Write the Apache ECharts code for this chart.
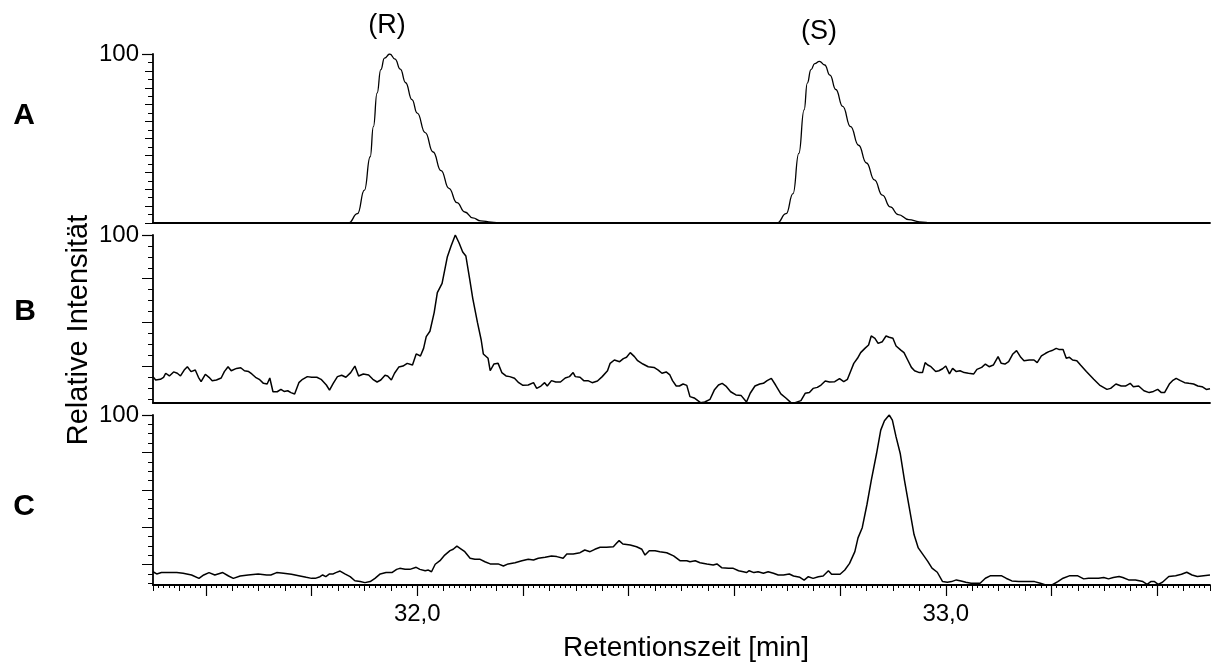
<!DOCTYPE html>
<html>
<head>
<meta charset="utf-8">
<title>Chromatogramme A–C</title>
<script src="https://cdn.jsdelivr.net/npm/echarts@6/dist/echarts.min.js"></script>
<style>
  html, body { margin: 0; padding: 0; background: #fff; }
  #chart { width: 1215px; height: 664px; }
</style>
</head>
<body>
<div id="chart"></div>
<script>
// Retention-time axis (min)
const timeRange = [31.5, 33.5];
const timeLongTicks = [31.6, 31.8, 32.0, 32.2, 32.4, 32.6, 32.8, 33.0, 33.2, 33.4];
const timeLabelTicks = [32.0, 33.0];

// Panel letters and peak assignments
const panelNames = ['A', 'B', 'C'];
const peakLabels = ['(R)', '(S)'];
const yTitle = 'Relative Intensität';
const xTitle = 'Retentionszeit [min]';

// Intensity ticks of each trace (top normalised to 100)
const yTicksA = [0, 5, 10, 15, 20, 25, 30, 35, 40, 45, 50, 55, 60, 65, 70, 75, 80, 85, 90, 95, 100];
const yMajorA = [0, 10, 20, 30, 40, 50, 60, 70, 80, 90];
const yTicksB = [100, 93.5, 87, 80.5, 74, 67.5, 61, 54.5, 48, 41.5, 35, 28.5, 22, 15.5, 9, 2.5];
const yMajorB = [74, 48, 22];
const yTicksC = [100, 94.5, 89, 83.5, 78, 72.5, 67, 61.5, 56, 50.5, 45, 39.5, 34, 28.5, 23, 17.5, 12, 6.5, 1];
const yMajorC = [78, 56, 34, 12];
const yTopLabel = [100];

// Trace A: [retention time, relative intensity]
const traceA = [
  [31.5, 0], [31.87, 0], [31.887, 5.5], [31.9, 19.4], [31.911, 39.2], [31.917, 57.0], [31.924, 76.8],
  [31.931, 90.7], [31.938, 97.6], [31.948, 100], [31.958, 97], [31.968, 91], [31.978, 83],
  [31.99, 73], [32.0, 65], [32.015, 53.5], [32.03, 42], [32.045, 31], [32.06, 20.5],
  [32.075, 12], [32.09, 6.5], [32.105, 3], [32.12, 1.3], [32.14, 0.5], [32.16, 0],
  [32.681, 0], [32.698, 5.5], [32.711, 17.4], [32.722, 41.2], [32.732, 66.9], [32.738, 82.8],
  [32.745, 90.7], [32.752, 94.3], [32.761, 95.6], [32.771, 93.5], [32.781, 87.5], [32.792, 79],
  [32.805, 69], [32.82, 57], [32.835, 46], [32.85, 35.5], [32.865, 25.5], [32.88, 16.5],
  [32.895, 9.5], [32.91, 5], [32.93, 2], [32.95, 0.7], [32.975, 0], [33.5, 0]
];

// Trace B
const traceB = [
  [31.5, 15.7], [31.505, 13.7], [31.514, 14.1], [31.52, 15.3], [31.524, 17.7], [31.531, 16.1], [31.539, 18.5],
  [31.546, 17.7], [31.552, 16.1], [31.559, 19.6], [31.565, 21.6], [31.572, 18.7], [31.58, 19.6], [31.586, 15.3],
  [31.591, 12.7], [31.599, 17.1], [31.606, 15.3], [31.612, 13.3], [31.62, 13.7], [31.629, 14.9], [31.635, 18.7],
  [31.642, 21.6], [31.648, 19.2], [31.658, 20.6], [31.666, 21.0], [31.673, 19.2], [31.681, 18.7], [31.687, 17.3],
  [31.694, 15.3], [31.701, 14.1], [31.709, 11.7], [31.716, 11.3], [31.721, 14.9], [31.727, 6.7], [31.735, 6.7],
  [31.742, 8.1], [31.748, 6.9], [31.755, 7.3], [31.761, 6.2], [31.768, 5.4], [31.776, 12.1], [31.783, 14.1],
  [31.792, 15.7], [31.8, 15.3], [31.81, 15.3], [31.818, 14.1], [31.828, 10.7], [31.834, 7.7], [31.841, 11.7],
  [31.849, 15.7], [31.857, 16.5], [31.865, 15.3], [31.874, 18.1], [31.882, 22.0], [31.889, 16.1], [31.898, 17.3],
  [31.908, 16.7], [31.916, 14.1], [31.924, 12.5], [31.931, 13.7], [31.939, 16.5], [31.944, 16.1], [31.951, 13.7],
  [31.957, 17.7], [31.965, 21.4], [31.973, 22.0], [31.981, 23.6], [31.991, 22.6], [31.998, 29.2], [32.006, 28.0],
  [32.012, 32.5], [32.017, 39.5], [32.024, 42.7], [32.032, 53.8], [32.038, 65.7], [32.047, 71.2], [32.057, 87.1],
  [32.064, 93.5], [32.072, 100], [32.079, 95.4], [32.086, 89.9], [32.092, 87.5], [32.099, 74.2], [32.105, 62.3],
  [32.114, 47.8], [32.121, 37.5], [32.125, 29.2], [32.134, 26.6], [32.138, 19.2], [32.145, 23.2], [32.153, 23.6],
  [32.16, 18.1], [32.168, 16.1], [32.175, 15.7], [32.184, 14.7], [32.192, 12.1], [32.2, 10.5], [32.21, 10.7],
  [32.22, 12.1], [32.226, 8.7], [32.234, 10.1], [32.241, 12.1], [32.246, 10.1], [32.254, 13.3], [32.262, 12.5],
  [32.271, 12.5], [32.28, 14.9], [32.288, 15.7], [32.295, 18.1], [32.299, 15.7], [32.308, 15.3], [32.315, 13.3],
  [32.323, 13.3], [32.331, 12.1], [32.341, 13.1], [32.35, 15.7], [32.36, 19.2], [32.365, 23.6], [32.373, 25.6],
  [32.383, 24.6], [32.39, 26.4], [32.396, 27.2], [32.403, 30.0], [32.411, 27.6], [32.417, 25.2], [32.427, 23.2],
  [32.437, 21.6], [32.448, 21.2], [32.456, 19.6], [32.463, 17.7], [32.471, 18.5], [32.478, 16.7],
  [32.483, 13.3], [32.49, 10.1], [32.496, 10.1], [32.503, 11.3], [32.51, 10.5], [32.516, 3.8], [32.524, 3.0],
  [32.536, 0.2], [32.544, 0.6], [32.554, 2.2], [32.562, 7.7], [32.57, 10.7], [32.577, 11.7], [32.584, 10.1],
  [32.593, 6.7], [32.603, 4.8], [32.613, 4.4], [32.623, 0.6], [32.63, 5.8], [32.639, 10.1], [32.648, 11.3],
  [32.655, 11.7], [32.662, 13.3], [32.67, 14.7], [32.678, 10.7], [32.688, 5.4], [32.698, 2.8], [32.707, 0.2],
  [32.715, 0.2], [32.726, 1.4], [32.734, 5.8], [32.742, 6.3], [32.749, 8.7], [32.757, 9.3], [32.764, 10.7],
  [32.772, 13.1], [32.78, 12.5], [32.79, 12.7], [32.799, 14.5], [32.807, 12.7], [32.814, 14.1], [32.821, 19.6],
  [32.826, 23.6], [32.833, 26.6], [32.839, 30.0], [32.847, 32.5], [32.854, 34.5], [32.859, 39.9], [32.866, 38.5],
  [32.872, 35.5], [32.88, 36.5], [32.887, 39.9], [32.893, 39.1], [32.9, 38.5], [32.906, 33.9], [32.915, 31.5],
  [32.921, 30.0], [32.928, 25.6], [32.935, 21.2], [32.941, 19.2], [32.95, 18.1], [32.956, 18.1], [32.961, 24.0],
  [32.966, 22.6], [32.972, 21.6], [32.981, 18.7], [32.987, 19.2], [32.994, 20.4], [33.0, 22.0], [33.007, 17.3],
  [33.013, 20.6], [33.02, 18.7], [33.027, 19.2], [33.035, 18.1], [33.043, 17.7], [33.053, 17.3], [33.059, 20.0],
  [33.068, 21.2], [33.075, 23.2], [33.082, 21.6], [33.09, 22.6], [33.099, 27.6], [33.105, 23.6], [33.112, 23.2],
  [33.119, 24.6], [33.127, 29.2], [33.134, 31.2], [33.142, 27.2], [33.148, 25.2], [33.158, 25.6], [33.167, 25.6],
  [33.173, 24.0], [33.181, 28.0], [33.189, 29.6], [33.195, 30.6], [33.201, 31.2], [33.209, 32.5], [33.214, 31.9],
  [33.222, 31.9], [33.228, 26.6], [33.234, 27.2], [33.24, 25.6], [33.248, 25.2], [33.255, 22.6], [33.266, 18.7],
  [33.28, 14.1], [33.291, 10.7], [33.305, 8.1], [33.312, 8.7], [33.322, 11.3], [33.332, 10.1], [33.34, 10.1],
  [33.349, 11.7], [33.355, 9.7], [33.365, 10.1], [33.375, 7.3], [33.385, 6.2], [33.393, 6.9], [33.401, 8.1],
  [33.408, 6.2], [33.414, 6.2], [33.423, 11.3], [33.429, 13.3], [33.436, 14.7], [33.444, 13.3], [33.452, 12.1],
  [33.46, 11.7], [33.469, 11.3], [33.477, 10.1], [33.485, 9.7], [33.493, 8.1], [33.5, 8.5]
];

// Trace C
const traceC = [
  [31.5, 7.8], [31.507, 6.5], [31.516, 7.3], [31.532, 7.3], [31.545, 7.3], [31.557, 6.9], [31.573, 5.9],
  [31.587, 3.9], [31.596, 5.9], [31.606, 7.3], [31.617, 5.9], [31.632, 7.3], [31.643, 5.3], [31.652, 3.9],
  [31.665, 5.3], [31.68, 5.9], [31.699, 6.5], [31.715, 5.9], [31.723, 5.9], [31.734, 7.3], [31.747, 6.9],
  [31.762, 6.3], [31.778, 5.3], [31.79, 4.5], [31.8, 3.9], [31.807, 3.9], [31.816, 4.9], [31.821, 5.9],
  [31.827, 4.9], [31.834, 6.5], [31.841, 6.5], [31.846, 7.3], [31.854, 8.2], [31.863, 6.5], [31.873, 4.9],
  [31.882, 2.5], [31.892, 2.0], [31.901, 1.4], [31.911, 2.0], [31.92, 3.9], [31.93, 6.5], [31.941, 7.3],
  [31.952, 7.3], [31.961, 9.2], [31.967, 9.8],
  [31.977, 9.2], [31.986, 9.2], [31.998, 10.4], [32.005, 9.2], [32.015, 8.4], [32.021, 8.8], [32.027, 7.8],
  [32.034, 12.2], [32.043, 14.3], [32.052, 17.6], [32.062, 20.2], [32.068, 21.0], [32.075, 22.9], [32.081, 21.6],
  [32.09, 19.6], [32.1, 15.7], [32.109, 15.1], [32.119, 15.1], [32.128, 13.7], [32.138, 12.4], [32.153, 12.4],
  [32.163, 11.2], [32.172, 12.4], [32.185, 13.1], [32.198, 14.3], [32.21, 15.1], [32.22, 14.7], [32.229, 15.7],
  [32.242, 16.3], [32.254, 17.1], [32.264, 16.7], [32.276, 15.7], [32.283, 18.2], [32.295, 18.2], [32.308, 19.0],
  [32.317, 20.6], [32.327, 19.6], [32.336, 21.0], [32.346, 22.2], [32.358, 22.2], [32.371, 22.5], [32.377, 24.5],
  [32.382, 26.1], [32.389, 24.1], [32.403, 23.5], [32.415, 22.5], [32.425, 21.0], [32.431, 17.6], [32.439, 20.2],
  [32.45, 20.2], [32.459, 19.6], [32.472, 19.0], [32.485, 17.1], [32.497, 14.3], [32.51, 14.3], [32.516, 13.7],
  [32.526, 14.3], [32.535, 13.1], [32.548, 12.4], [32.56, 11.8], [32.567, 12.4], [32.576, 10.2], [32.589, 9.8],
  [32.598, 9.8], [32.608, 8.4], [32.617, 7.8], [32.623, 7.3], [32.628, 8.4], [32.637, 7.3], [32.645, 7.8],
  [32.655, 6.9], [32.664, 7.8], [32.674, 6.9], [32.683, 5.9], [32.693, 5.9], [32.704, 6.5], [32.712, 5.3],
  [32.724, 4.5], [32.732, 2.9], [32.74, 4.9], [32.749, 3.9], [32.759, 4.9], [32.768, 5.3], [32.778, 8.4],
  [32.784, 6.3], [32.8, 6.3], [32.809, 8.8], [32.818, 12.7], [32.828, 19.6],
  [32.834, 27.7], [32.842, 33.7], [32.851, 47.5], [32.859, 61.4], [32.869, 77.2], [32.877, 91.1], [32.884, 96.6],
  [32.893, 100], [32.899, 97.0], [32.906, 87.1], [32.914, 77.2], [32.922, 61.4], [32.931, 45.5], [32.94, 29.7],
  [32.948, 21.8], [32.958, 17.4], [32.966, 13.9], [32.974, 9.9], [32.984, 7.5], [32.994, 2.0], [33.003, 1.6],
  [33.011, 2.0], [33.02, 3.0], [33.029, 2.4], [33.038, 1.6], [33.048, 1.0], [33.065, 1.0], [33.075, 4.0],
  [33.085, 5.5], [33.095, 5.5], [33.105, 5.5], [33.114, 4.0], [33.125, 2.4], [33.138, 2.0], [33.155, 2.0],
  [33.168, 2.0], [33.179, 1.0], [33.189, 0], [33.201, 0], [33.212, 2.0], [33.222, 4.0], [33.235, 5.5],
  [33.249, 5.5], [33.261, 3.6], [33.27, 4.0], [33.281, 4.0], [33.289, 4.0], [33.299, 4.4], [33.308, 3.6],
  [33.317, 4.4], [33.328, 5.0], [33.335, 4.4], [33.346, 3.0], [33.359, 3.0], [33.373, 2.0], [33.381, 0.4],
  [33.388, 2.0], [33.395, 2.0], [33.402, 0.4], [33.41, 1.6], [33.422, 5.0], [33.435, 5.5], [33.446, 6.3],
  [33.456, 7.5], [33.466, 5.9], [33.476, 5.0], [33.488, 5.5], [33.5, 5.9]
];

const FONT = '"Liberation Sans", Arial, Helvetica, sans-serif';
const INK = '#000';

// Vertical layout of the three stacked traces
const panels = [
  { top: 54,  height: 169, data: traceA, ticks: yTicksA, major: yMajorA, majorLen: 8,  width: 1.3, smooth: 0.5 },
  { top: 235, height: 168, data: traceB, ticks: yTicksB, major: yMajorB, majorLen: 11, width: 1.5, smooth: false },
  { top: 415, height: 170, data: traceC, ticks: yTicksC, major: yMajorC, majorLen: 11, width: 1.5, smooth: false }
];
const plotLeft = 153, plotWidth = 1057;

const grids = [], xAxes = [], yAxes = [], series = [];

panels.forEach((p, i) => {
  grids.push({ left: plotLeft, top: p.top, width: plotWidth, height: p.height });

  xAxes.push({
    type: 'value', gridIndex: i, min: timeRange[0], max: timeRange[1], interval: 0.05,
    axisLine: { show: true, onZero: false, lineStyle: { color: INK, width: 1.8 } },
    axisTick: { show: i === 2, length: 6, lineStyle: { color: INK, width: 1 } },
    minorTick: { show: i === 2, splitNumber: 5, length: 3, lineStyle: { color: INK, width: 1 } },
    axisLabel: { show: false },
    splitLine: { show: false }, minorSplitLine: { show: false }
  });

  const yBase = {
    type: 'value', gridIndex: i, min: 0, max: 100, position: 'left', offset: 0,
    splitLine: { show: false }, axisLabel: { show: false }
  };
  // all ticks (short) + axis line
  yAxes.push(Object.assign({}, yBase, {
    axisLine: { show: true, lineStyle: { color: INK, width: 1.8 } },
    axisTick: { show: true, customValues: p.ticks, length: 5, lineStyle: { color: INK, width: 1 } }
  }));
  // intermediate ticks (longer)
  yAxes.push(Object.assign({}, yBase, {
    axisLine: { show: false },
    axisTick: { show: true, customValues: p.major, length: p.majorLen, lineStyle: { color: INK, width: 1 } }
  }));
  // top tick with its label
  yAxes.push(Object.assign({}, yBase, {
    axisLine: { show: false },
    axisTick: { show: true, customValues: yTopLabel, length: 11, lineStyle: { color: INK, width: 1.2 } },
    axisLabel: { show: true, customValues: yTopLabel, margin: 14, color: INK, fontFamily: FONT, fontSize: 24 }
  }));

  series.push({
    type: 'line', name: panelNames[i], xAxisIndex: i, yAxisIndex: i * 3,
    data: p.data, showSymbol: false, symbol: 'none',
    smooth: p.smooth, smoothMonotone: 'x',
    lineStyle: { color: INK, width: p.width }, clip: true
  });
});

// long ticks every 0.2 min and the labelled minutes on the bottom trace
xAxes.push({
  type: 'value', gridIndex: 2, min: timeRange[0], max: timeRange[1], position: 'bottom',
  axisLine: { show: false, onZero: false },
  axisTick: { show: true, customValues: timeLongTicks, length: 11, lineStyle: { color: INK, width: 1.2 } },
  axisLabel: {
    show: true, customValues: timeLabelTicks, margin: 17, color: INK, fontFamily: FONT, fontSize: 24,
    formatter: v => v.toFixed(1).replace('.', ',')
  },
  splitLine: { show: false }
});

const textStyle = (size, weight) => ({ fill: INK, font: `${weight || 'normal'} ${size}px ${FONT}`, align: 'center', verticalAlign: 'middle' });

const graphics = [
  { type: 'text', x: 24, y: 116, style: Object.assign({ text: panelNames[0] }, textStyle(30, 'bold')) },
  { type: 'text', x: 25, y: 312, style: Object.assign({ text: panelNames[1] }, textStyle(30, 'bold')) },
  { type: 'text', x: 24, y: 507, style: Object.assign({ text: panelNames[2] }, textStyle(30, 'bold')) },
  { type: 'text', x: 387, y: 26, style: Object.assign({ text: peakLabels[0] }, textStyle(27)) },
  { type: 'text', x: 819, y: 32, style: Object.assign({ text: peakLabels[1] }, textStyle(27)) },
  { type: 'text', x: 79, y: 330, rotation: Math.PI / 2, style: Object.assign({ text: yTitle }, textStyle(29)) },
  { type: 'text', x: 686, y: 648, style: Object.assign({ text: xTitle }, textStyle(28)) }
];

const chart = echarts.init(document.getElementById('chart'), null, { renderer: 'canvas' });
chart.setOption({
  animation: false,
  backgroundColor: '#fff',
  grid: grids,
  xAxis: xAxes,
  yAxis: yAxes,
  series: series,
  graphic: graphics
});
</script>
</body>
</html>
